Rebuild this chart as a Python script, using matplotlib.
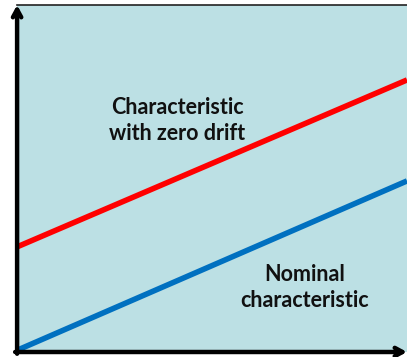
import matplotlib.pyplot as plt

# drift characteristic lines (x from 0 to 10)
x_vals = [0, 10]
nominal = [0.05, 4.93]
zero_drift = [3.03, 7.84]

bg = '#bce0e4'

fig = plt.figure(figsize=(4.07, 3.57), dpi=100)
ax = fig.add_axes([0.042, 0.014, 0.958, 0.972])
ax.set_facecolor(bg)
ax.set_xlim(0, 10)
ax.set_ylim(0, 10)
ax.set_xticks([])
ax.set_yticks([])

for s in ['left', 'bottom', 'right']:
    ax.spines[s].set_visible(False)
ax.spines['top'].set_linewidth(1.2)
ax.spines['top'].set_color('#222222')

ax.plot(x_vals, zero_drift, color='#ff0000', lw=4, solid_capstyle='butt', clip_on=False)
ax.plot(x_vals, nominal, color='#0070c0', lw=4, solid_capstyle='butt', clip_on=False)

# axis arrows
arr = dict(arrowstyle='->,head_length=0.55,head_width=0.3', lw=3.2, color='black',
           shrinkA=0, shrinkB=0)
ax.annotate('', xy=(0, 1.0), xytext=(0, -0.005), xycoords='axes fraction',
            arrowprops=arr, annotation_clip=False)
ax.annotate('', xy=(1.0, 0), xytext=(-0.005, 0), xycoords='axes fraction',
            arrowprops=arr, annotation_clip=False)

font = dict(family=['Lato', 'DejaVu Sans'], fontweight='bold', fontsize=15.5,
            ha='center', va='center', linespacing=1.3, color='#111111')
ax.text(4.1, 6.68, 'Characteristic\nwith zero drift', **font)
ax.text(7.38, 1.85, 'Nominal\ncharacteristic', **font)

fig.savefig('out.png', dpi=100, facecolor='white')
